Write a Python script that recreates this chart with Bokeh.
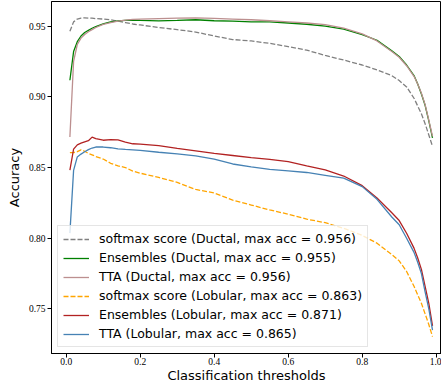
from bokeh.plotting import figure
from bokeh.models import Range1d, FixedTicker, PrintfTickFormatter
from bokeh.embed import file_html
from bokeh.resources import INLINE

thresholds = [0.01, 0.02, 0.03, 0.04, 0.05, 0.06, 0.07, 0.08, 0.10, 0.12, 0.14, 0.16, 0.18,
              0.20, 0.25, 0.30, 0.35, 0.40, 0.45, 0.50, 0.55, 0.60, 0.65, 0.70, 0.75, 0.80,
              0.84, 0.88, 0.90, 0.92, 0.94, 0.95, 0.96, 0.97, 0.98, 0.99]

softmax_ductal = [0.9463, 0.9530, 0.9550, 0.9557, 0.9558, 0.9556, 0.9557, 0.9553, 0.9550,
                  0.9545, 0.9535, 0.9525, 0.9515, 0.9508, 0.9490, 0.9475, 0.9458, 0.9430,
                  0.9405, 0.9395, 0.9378, 0.9355, 0.9330, 0.9293, 0.9260, 0.9225, 0.9190,
                  0.9150, 0.9115, 0.9070, 0.8990, 0.8935, 0.8880, 0.8810, 0.8730, 0.8650]

ensembles_ductal = [0.9117, 0.9320, 0.9390, 0.9430, 0.9455, 0.9470, 0.9485, 0.9497, 0.9515,
                    0.9530, 0.9537, 0.9540, 0.9543, 0.9540, 0.9537, 0.9540, 0.9545, 0.9538,
                    0.9535, 0.9530, 0.9530, 0.9522, 0.9513, 0.9500, 0.9478, 0.9440, 0.9400,
                    0.9325, 0.9285, 0.9225, 0.9150, 0.9090, 0.9020, 0.8940, 0.8830, 0.8710]

tta_ductal = [0.8716, 0.9250, 0.9370, 0.9415, 0.9440, 0.9460, 0.9475, 0.9490, 0.9512,
              0.9525, 0.9535, 0.9543, 0.9548, 0.9550, 0.9553, 0.9556, 0.9558, 0.9555,
              0.9550, 0.9545, 0.9538, 0.9530, 0.9522, 0.9510, 0.9485, 0.9445, 0.9395,
              0.9320, 0.9280, 0.9220, 0.9145, 0.9090, 0.9025, 0.8945, 0.8835, 0.8720]

softmax_lobular = [0.8606, 0.8606, 0.8612, 0.8625, 0.8615, 0.8600, 0.8590, 0.8578, 0.8560,
                   0.8530, 0.8512, 0.8500, 0.8475, 0.8460, 0.8430, 0.8395, 0.8345, 0.8320,
                   0.8270, 0.8235, 0.8200, 0.8170, 0.8135, 0.8110, 0.8070, 0.8020, 0.7965,
                   0.7885, 0.7840, 0.7765, 0.7660, 0.7600, 0.7540, 0.7465, 0.7390, 0.7304]

ensembles_lobular = [0.8481, 0.8630, 0.8660, 0.8672, 0.8682, 0.8690, 0.8715, 0.8705, 0.8693,
                     0.8698, 0.8695, 0.8680, 0.8668, 0.8666, 0.8655, 0.8635, 0.8618, 0.8600,
                     0.8585, 0.8570, 0.8557, 0.8542, 0.8512, 0.8483, 0.8440, 0.8372, 0.8285,
                     0.8180, 0.8125, 0.8035, 0.7930, 0.7860, 0.7780, 0.7660, 0.7540, 0.7380]

tta_lobular = [0.8036, 0.8480, 0.8575, 0.8595, 0.8612, 0.8627, 0.8638, 0.8645, 0.8645,
               0.8640, 0.8632, 0.8628, 0.8625, 0.8622, 0.8608, 0.8597, 0.8582, 0.8560,
               0.8525, 0.8505, 0.8487, 0.8477, 0.8465, 0.8445, 0.8425, 0.8365, 0.8275,
               0.8150, 0.8095, 0.8000, 0.7900, 0.7830, 0.7750, 0.7620, 0.7500, 0.7350]

labels = ["softmax score (Ductal, max acc = 0.956)",
          "Ensembles (Ductal, max acc = 0.955)",
          "TTA (Ductal, max acc = 0.956)",
          "softmax score (Lobular, max acc = 0.863)",
          "Ensembles (Lobular, max acc = 0.871)",
          "TTA (Lobular, max acc = 0.865)"]

x_ticks = [0.0, 0.2, 0.4, 0.6, 0.8, 1.0]
y_ticks = [0.75, 0.80, 0.85, 0.90, 0.95]

p = figure(width=441, height=385, output_backend="svg", toolbar_location=None,
           x_range=Range1d(-0.0397, 1.0143), y_range=Range1d(0.7185, 0.9674),
           min_border_left=51, min_border_right=0, min_border_top=1, min_border_bottom=32)
p.xgrid.visible = False
p.ygrid.visible = False
p.outline_line_color = "black"
p.outline_line_width = 1
p.outline_line_alpha = 1.0

series = [
    (softmax_ductal, "#808080", "5 2"),
    (ensembles_ductal, "#008000", "solid"),
    (tta_ductal, "#bc8f8f", "solid"),
    (softmax_lobular, "#ffa500", "5 2"),
    (ensembles_lobular, "#b22222", "solid"),
    (tta_lobular, "#4682b4", "solid"),
]
for (ys, col, dash), lab in zip(series, labels):
    p.line(thresholds, ys, line_color=col, line_width=1.3, line_dash=dash, legend_label=lab)

for ax in (p.xaxis[0], p.yaxis[0]):
    ax.axis_line_color = "black"
    ax.axis_line_width = 1
    ax.major_tick_line_color = "black"
    ax.major_tick_in = 0
    ax.major_tick_out = 4
    ax.minor_tick_line_color = None
    ax.major_label_text_font = "Liberation Serif"
    ax.major_label_text_font_size = "9.5px"
    ax.major_label_text_color = "black"
    ax.axis_label_text_font = "DejaVu Sans"
    ax.axis_label_text_font_size = "13px"
    ax.axis_label_text_font_style = "normal"
    ax.axis_label_text_color = "black"

p.xaxis[0].major_label_standoff = 0
p.xaxis[0].axis_label_standoff = 0
p.yaxis[0].major_label_standoff = 2
p.yaxis[0].axis_label_standoff = 4

p.xaxis[0].ticker = FixedTicker(ticks=x_ticks)
p.xaxis[0].formatter = PrintfTickFormatter(format="%.1f")
p.yaxis[0].ticker = FixedTicker(ticks=y_ticks)
p.yaxis[0].formatter = PrintfTickFormatter(format="%.2f")
p.xaxis[0].axis_label = "Classification thresholds"
p.yaxis[0].axis_label = "Accuracy"

lg = p.legend[0]
lg.location = (6, 6)
lg.margin = 0
lg.padding = 5
lg.spacing = 4
lg.label_height = 14
lg.glyph_height = 14
lg.glyph_width = 26
lg.label_standoff = 10
lg.label_text_font = "DejaVu Sans"
lg.label_text_font_size = "12.5px"
lg.label_text_color = "black"
lg.border_line_color = "#cccccc"
lg.border_line_width = 1
lg.background_fill_color = "white"
lg.background_fill_alpha = 0.8

open("out.html", "w").write(file_html(p, INLINE))
